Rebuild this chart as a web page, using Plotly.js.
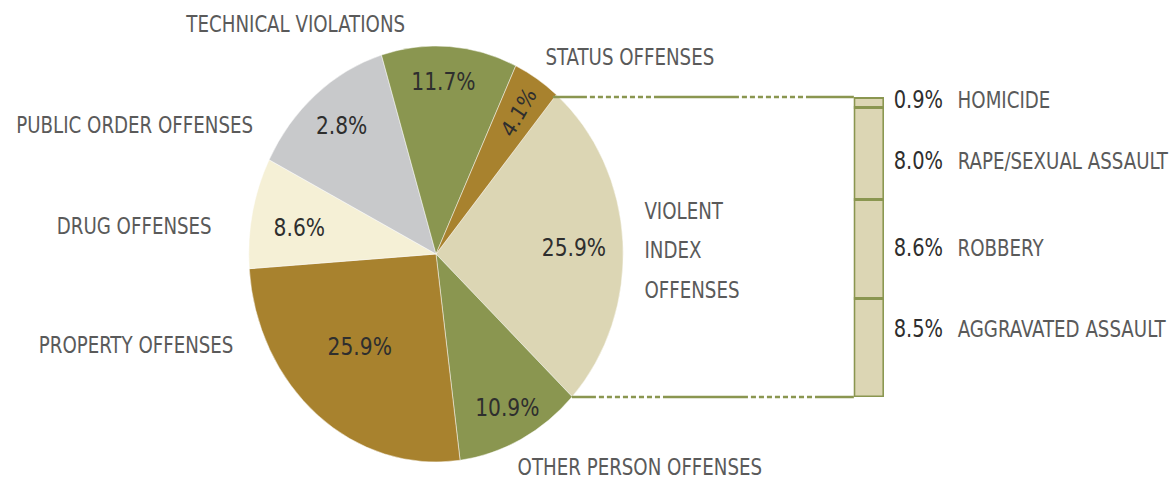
<!DOCTYPE html>
<html>
<head>
<meta charset="utf-8">
<script src="https://cdn.plot.ly/plotly-3.0.1.min.js"></script>
<style>
html,body{margin:0;padding:0;overflow:hidden;background:#fff;}
#wrap{width:1172px;height:479px;overflow:hidden;position:relative;}
#chart{width:1302px;height:479px;transform:scaleX(0.9);transform-origin:0 0;}
</style>
</head>
<body>
<div id="wrap"><div id="chart"></div></div>
<script>
// ---- data ----
const categories = ['VIOLENT INDEX OFFENSES','OTHER PERSON OFFENSES','PROPERTY OFFENSES','DRUG OFFENSES','PUBLIC ORDER OFFENSES','TECHNICAL VIOLATIONS','STATUS OFFENSES'];
const shares = [25.9, 10.9, 25.9, 8.6, 12.8, 11.7, 4.1];
const shareLabels = ['25.9%','10.9%','25.9%','8.6%','2.8%','11.7%','4.1%'];
const violentSub = ['HOMICIDE','RAPE/SEXUAL ASSAULT','ROBBERY','AGGRAVATED ASSAULT'];
const violentSubValues = [0.9, 8.0, 8.6, 8.5];
const violentSubLabels = ['0.9%','8.0%','8.6%','8.5%'];

// ---- styling ----
const SX = 0.9;                 // horizontal squeeze of the whole picture
const W = 1302, H = 479;
const REFW = 1172;
const FONT = '"Liberation Sans Narrow","DejaVu Sans Condensed","Arial Narrow",sans-serif';
const OLIVE = '#8a9650', GOLD = '#a8822e', TAN = '#dcd6b4', CREAM = '#f5f0d6', GRAY = '#c8c9cb';
const sliceColors = [TAN, OLIVE, GOLD, CREAM, GRAY, OLIVE, GOLD];
const LABEL = '#5a5a5a', DARK = '#2e2e2e';

const px = x => x / REFW;          // reference pixel -> paper x
const py = y => 1 - y / H;         // reference pixel -> paper y

// pie geometry (reference pixels)
const cx = 436, cy = 254, R = 208;
const pieDomX = [(cx / SX - R) / W, (cx / SX + R) / W];
const pieDomY = [py(cy + R), py(cy - R)];

const traces = [
  {
    type: 'pie', values: shares, labels: categories, text: shareLabels,
    sort: false, direction: 'clockwise', rotation: 40,
    domain: {x: pieDomX, y: pieDomY},
    marker: {colors: sliceColors, line: {color: '#ffffff', width: 0.5}},
    textinfo: 'none',
    hoverinfo: 'label+text', showlegend: false
  }
];

// stacked bar for violent index breakdown (bottom to top)
for (let i = violentSub.length - 1; i >= 0; i--) {
  traces.push({
    type: 'bar', x: [0], y: [violentSubValues[i]], name: violentSub[i],
    width: 1, xaxis: 'x', yaxis: 'y',
    marker: {color: TAN, line: {color: OLIVE, width: 3}},
    hoverinfo: 'name+y', showlegend: false
  });
}

function dashPattern(first) {
  const seq = [first];
  const dashed = () => { for (let k = 0; k < 8; k++) { seq.push(3, 5); } seq.push(3); };
  dashed(); seq.push(85); dashed(); seq.push(200);
  return seq.map(v => (v / SX).toFixed(1) + 'px').join(',');
}

const annotations = [];
const txt = (text, x, y, size, color, anchor, angle) => annotations.push({
  text, x: px(x), y: py(y), xref: 'paper', yref: 'paper', showarrow: false,
  xanchor: anchor || 'center', yanchor: 'middle', textangle: angle || 0,
  font: {family: FONT, size, color}
});

// category labels around the pie
const CAT = 22.5;
txt(categories[5], 295, 24, CAT, LABEL);
txt(categories[6], 630, 57, CAT, LABEL);
txt(categories[4], 135, 125, CAT, LABEL);
txt(categories[3], 134, 226, CAT, LABEL);
txt(categories[2], 136, 345, CAT, LABEL);
txt(categories[1], 640, 467, CAT, LABEL);
const vParts = categories[0].split(' ');
txt(vParts[0], 643, 211, CAT, LABEL, 'left');
txt(vParts[1], 643, 250, CAT, LABEL, 'left');
txt(vParts[2], 643, 290, CAT, LABEL, 'left');

// percentage labels inside the slices
const PCT = 25;
const slicePos = [[574, 248], [507, 407], [360, 346], [299, 227], [342, 125], [443, 82], [519, 112]];
shareLabels.forEach((t, i) => {
  const isStatus = i === shareLabels.length - 1;
  txt(t, slicePos[i][0], slicePos[i][1], isStatus ? 23 : PCT, DARK, 'center', isStatus ? -58 : 0);
});

// labels for the violent index breakdown
const subY = [100, 161, 248, 329];
violentSub.forEach((name, i) => {
  txt(violentSubLabels[i], 892, subY[i], 24, DARK, 'left');
  txt(name, 956, subY[i], CAT, LABEL, 'left');
});

const total = violentSubValues.reduce((a, b) => a + b, 0);
const barTop = 97, barBot = 397;
const shapes = [
  {type: 'line', xref: 'paper', yref: 'paper', x0: px(553), y0: py(barTop), x1: px(854), y1: py(barTop),
   line: {color: OLIVE, width: 2.5, dash: dashPattern(34)}},
  {type: 'line', xref: 'paper', yref: 'paper', x0: px(572), y0: py(barBot), x1: px(854), y1: py(barBot),
   line: {color: OLIVE, width: 2.5, dash: dashPattern(24)}},
  // outer frame of the stacked bar, in the bar's own axis units
  {type: 'rect', xref: 'x', yref: 'y', x0: -0.5, x1: 0.5, y0: 0, y1: total,
   line: {color: OLIVE, width: 3.2}, fillcolor: 'rgba(0,0,0,0)', layer: 'above'}
];

const layout = {
  width: W, height: H,
  margin: {l: 0, r: 0, t: 0, b: 0},
  paper_bgcolor: '#ffffff', plot_bgcolor: 'rgba(0,0,0,0)',
  barmode: 'stack', bargap: 0,
  xaxis: {domain: [px(854), px(884)], range: [-0.5, 0.5], visible: false, fixedrange: true},
  yaxis: {domain: [py(barBot), py(barTop)], range: [0, total], visible: false, fixedrange: true},
  annotations, shapes,
  showlegend: false
};

Plotly.newPlot('chart', traces, layout, {staticPlot: true, displayModeBar: false});
</script>
</body>
</html>
